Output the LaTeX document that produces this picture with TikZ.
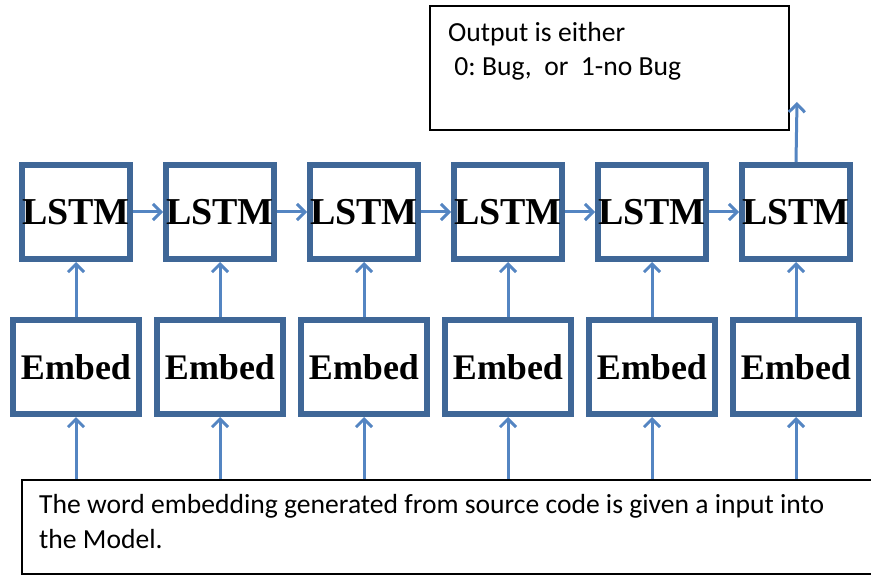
\documentclass[tikz,border=0pt]{standalone}
\usepackage{fontspec}
\setmainfont{Carlito}
\newfontfamily\tnr{Liberation Serif}
\usetikzlibrary{arrows.meta}
\definecolor{boxblue}{HTML}{3F6797}
\definecolor{arrblue}{HTML}{5485C2}
\begin{document}
\frenchspacing
\begin{tikzpicture}[x=1pt,y=-1pt,
  lstmbox/.style={draw=boxblue, line width=6pt, fill=white, minimum width=108pt, minimum height=94pt, inner sep=0pt,
    font=\tnr\bfseries\fontsize{38}{38}\selectfont},
  embbox/.style={draw=boxblue, line width=6pt, fill=white, minimum width=126pt, minimum height=94pt, inner sep=0pt,
    font=\tnr\bfseries\fontsize{36}{36}\selectfont},
  arr/.style={draw=arrblue, line width=3pt, -{Straight Barb[length=8pt,width=16pt]}},
  txtbox/.style={draw=black, line width=2pt, inner sep=0pt, anchor=north west},
  txt/.style={anchor=base west, inner sep=0pt, font=\frenchspacing\fontsize{27.6}{27.6}\selectfont}
]
\useasboundingbox (0,0) rectangle (871,575);
\fill[white] (0,0) rectangle (871,575);
% output box
\node[txtbox, minimum width=359pt, minimum height=124pt] (out) at (429,5) {};
\node[txt] (o1) at (448,41.5) {Output is either};
\node[txt] (o2) at (448,76) {\ 0: Bug,\ \ or\ \ 1-no Bug};
% input box
\node[txtbox, minimum width=870pt, minimum height=94pt] (bot) at (21,479) {};
\node[txt] (b1) at (39,513) {The word embedding generated from source code is given a input into};
\node[txt] (b2) at (39,548) {the Model.};
% LSTM and Embed boxes
\foreach \i in {1,...,6}{
  \node[lstmbox] (l\i) at ({76+144*(\i-1)},212) {LSTM};
  \node[embbox] (e\i) at ({76+144*(\i-1)},367) {Embed};
}
\foreach \i in {1,...,6}{
  \draw[arr] (e\i.north) -- (l\i.south);
  \draw[arr] (bot.north -| e\i) -- (e\i.south);
}
\foreach \i/\j in {1/2,2/3,3/4,4/5,5/6}{
  \draw[arr] (l\i.east) -- (l\j.west);
}
\coordinate (outtip) at (797,102);
\draw[arr] (l6.north) -- (outtip);
\end{tikzpicture}
\end{document}
